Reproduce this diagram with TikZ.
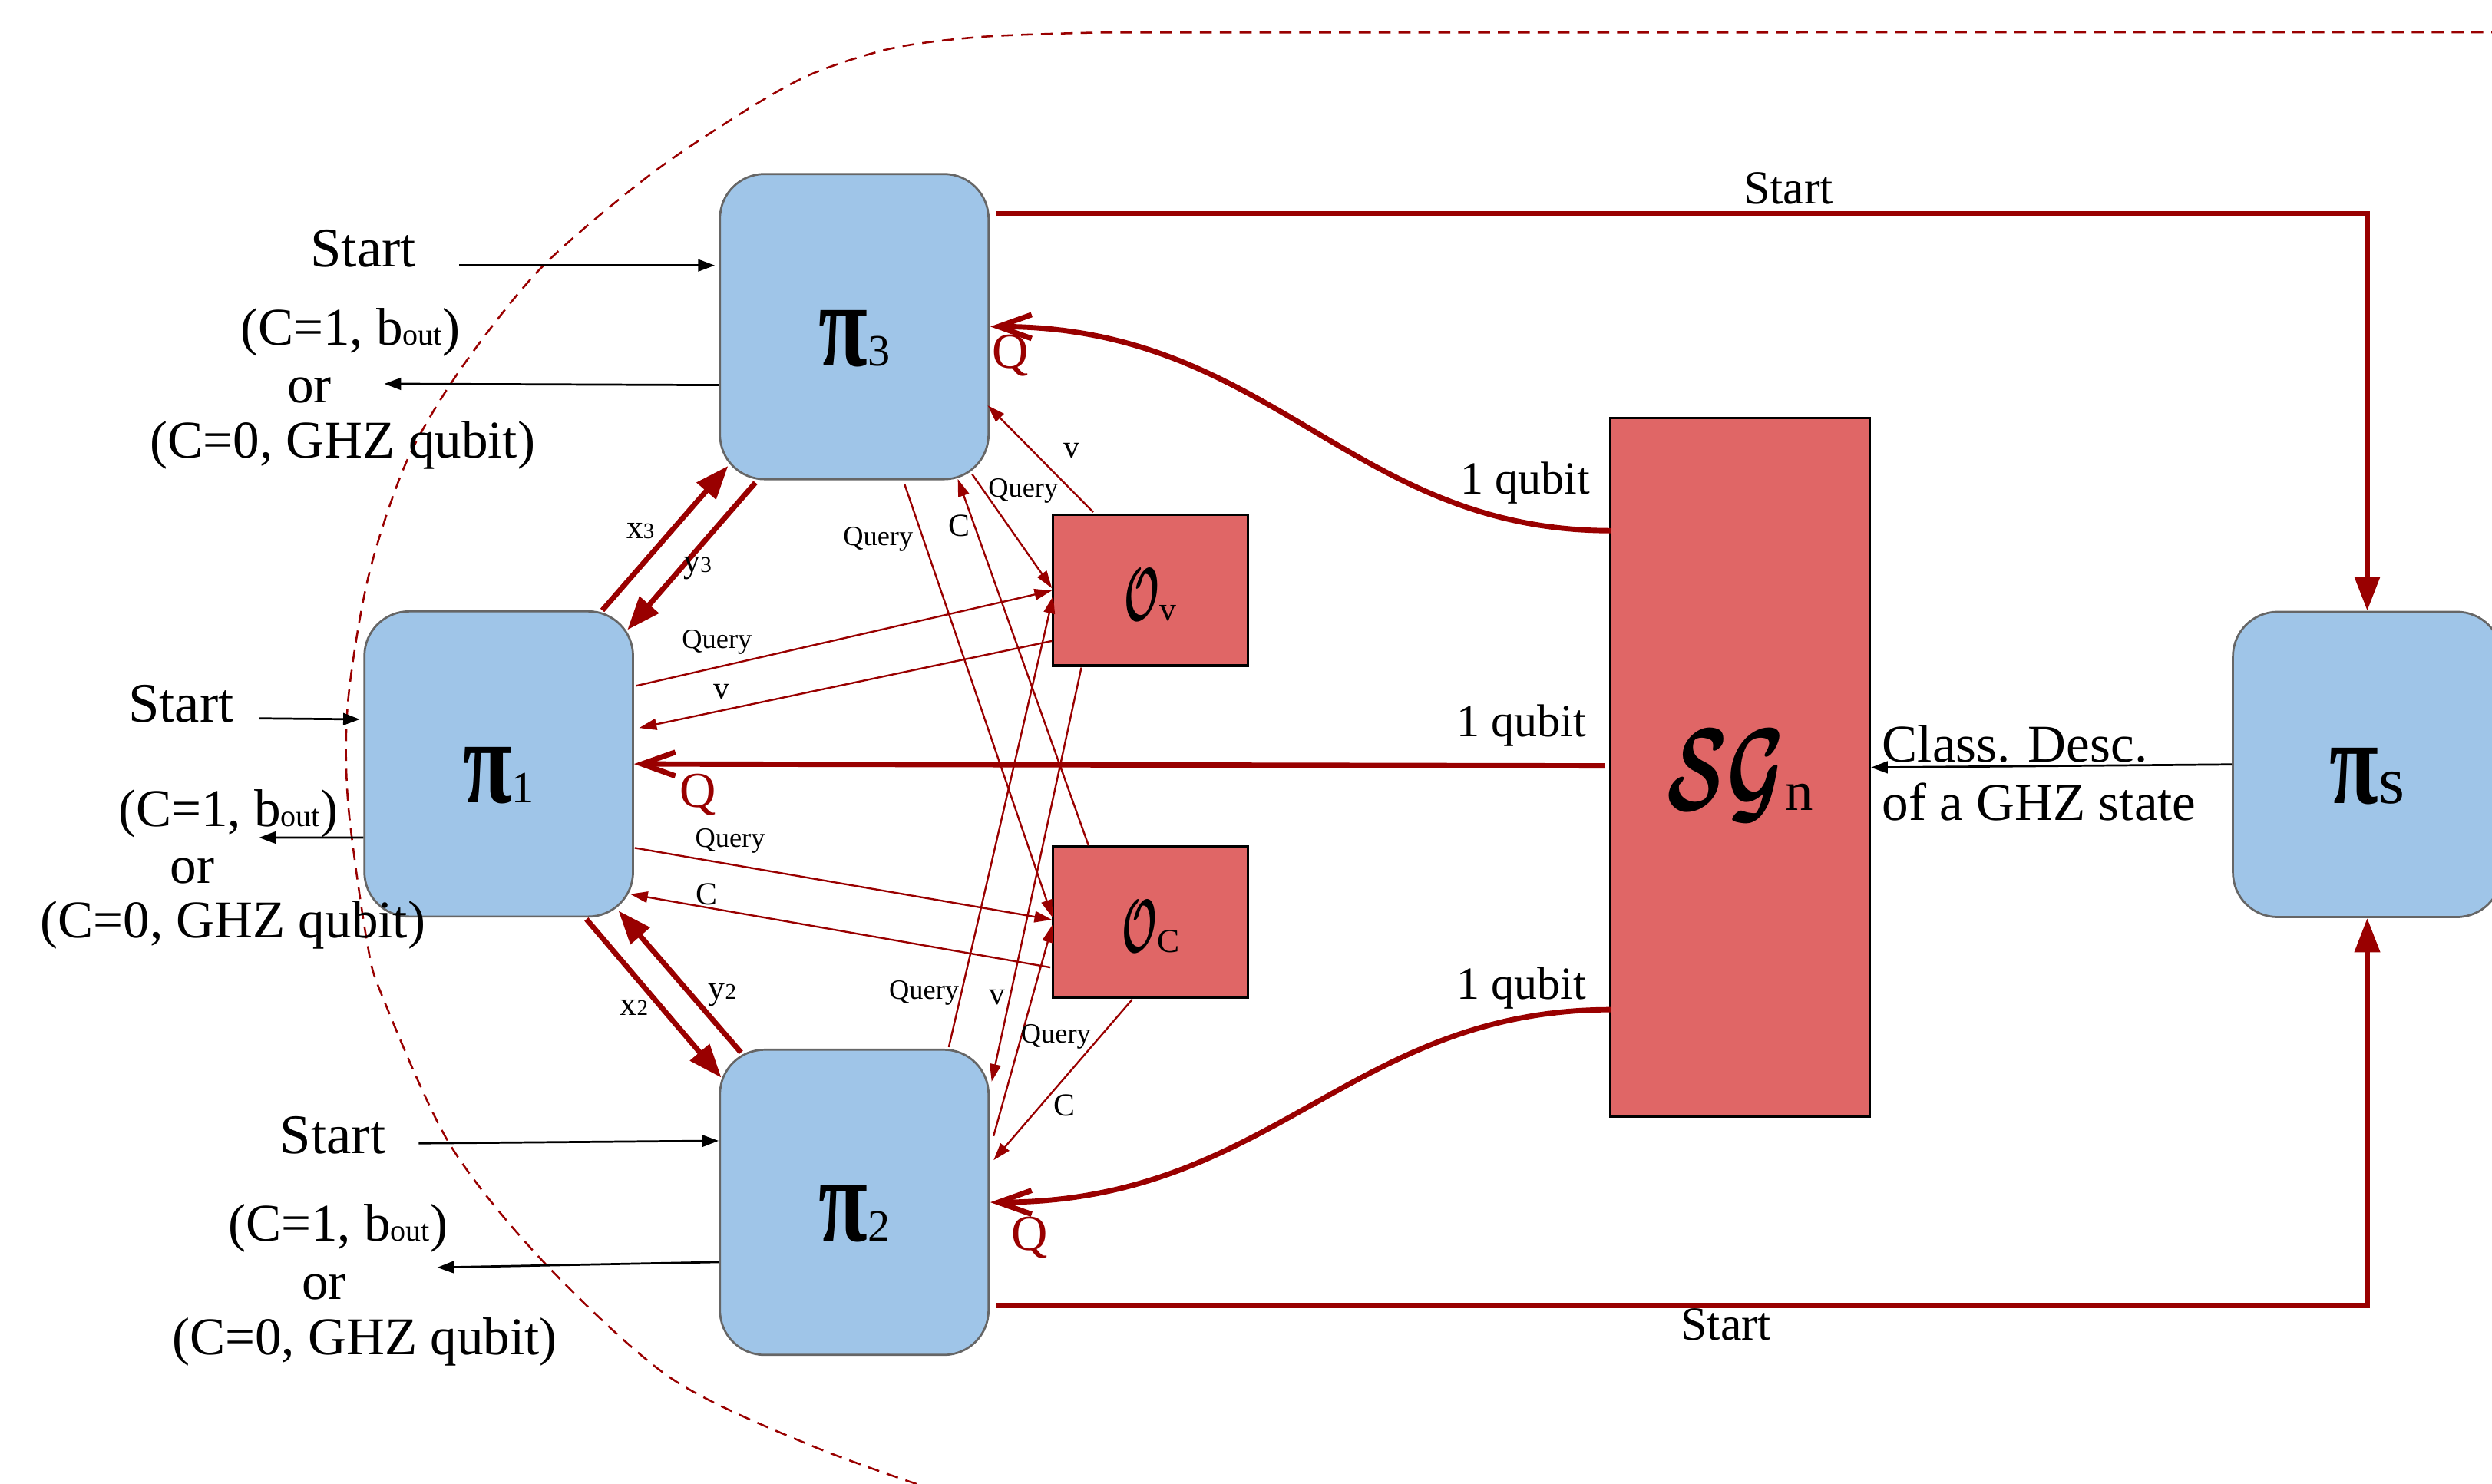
\RequirePackage{fix-cm}
\documentclass[tikz,border=0pt]{standalone}
\usepackage{fontspec}
\setmainfont{Liberation Serif}
\usepackage{graphicx}
\usetikzlibrary{arrows.meta,calc}

\definecolor{wire}{HTML}{990000}
\definecolor{partyfill}{HTML}{9FC5E8}
\definecolor{partyedge}{HTML}{666666}
\definecolor{oraclefill}{HTML}{E06666}

\newcommand{\sz}[1]{\fontsize{#1}{#1}\selectfont}
% party name: tall bold pi with an index, set slightly below centre
\newcommand{\tallpi}{\scalebox{1}[1.35]{\sz{32}\bfseries π}}
\newcommand{\partyname}[1]{\raisebox{-1.5mm}[\height][\depth]{\tallpi\sz{16}\mdseries #1}}
\newcommand{\oraclename}[1]{\raisebox{-0.6mm}[\height][\depth]{\scalebox{0.5}[1]{\sz{27}\boldmath$\mathcal{O}$}\sz{12}#1}}

\tikzset{
  party/.style={draw=partyedge, line width=0.75pt, fill=partyfill, rounded corners=5.6mm,
    minimum width=33.8mm, minimum height=38.4mm, inner sep=0pt},
  oracle/.style={draw=black, line width=0.85pt, fill=oraclefill, inner sep=0pt},
  thickwire/.style={draw=wire, line width=1.9pt},
  xyarrow/.style={thickwire, -{Triangle[length=4.2mm,width=3.1mm]}},
  qarrow/.style={thickwire, -{Straight Barb[length=4.2mm,width=3mm]}},
  startwire/.style={thickwire, -{Triangle[length=4.3mm,width=3.1mm]}},
  thinarrow/.style={draw=wire, line width=0.65pt, -{Triangle[length=2.2mm,width=1.4mm]}},
  blackarrow/.style={draw=black, line width=0.75pt, -{Triangle[length=2.1mm,width=1.5mm]}},
  outlabel/.style={font=\sz{19}, inner sep=0pt},
  startlabel/.style={font=\sz{20}, inner sep=0pt},
  startsmall/.style={font=\sz{17}, inner sep=0pt},
  qlabel/.style={font=\sz{18}, text=wire, inner sep=0pt},
  qrylabel/.style={font=\sz{10}, inner sep=0pt},
  cvlabel/.style={font=\sz{11.5}, inner sep=0pt},
  xylabel/.style={font=\sz{12}, inner sep=0pt},
  qubitlabel/.style={font=\sz{16.5}, inner sep=0pt},
  boundary/.style={draw=wire, line width=0.7pt, dash pattern=on 1.5mm off 1mm},
}

\begin{document}
\begin{tikzpicture}[x=0.2mm, y=-0.2mm]
\useasboundingbox (0,0) rectangle (1568,933.7);

% dashed boundary round the parties and oracles
\draw[boundary] (1600,20.3) -- (690,20.5) -- plot[smooth] coordinates {
  (690,20.5) (620,23) (563,30) (512,46) (470,69) (409,110) (341,168) (290,232)
  (256,290) (232,362) (219,441) (219,505) (231,593) (241,628) (283,720)
  (342,794) (422,867) (514,911) (610,945)};

% parties
\node[party] (pi3) at (537.5,205.5) {\partyname{3}};
\node[party] (pi1) at (313.8,480.7) {\partyname{1}};
\node[party] (pi2) at (537.5,756.5) {\partyname{2}};
\node[party] (pis) at (1489.5,481) {\raisebox{-1.5mm}[\height][\depth]{\tallpi\sz{24}\mdseries s}};

% oracles and the GHZ source
\node[oracle, minimum width=24.5mm, minimum height=19mm] (ov) at (723.9,371.3) {\oraclename{v}};
\node[oracle, minimum width=24.5mm, minimum height=19mm] (oc) at (723.9,580.2) {\oraclename{C}};
\node[oracle, minimum width=32.64mm, minimum height=87.94mm] (sg) at (1094.9,482.9)
  {\raisebox{-1mm}[\height][\depth]{\scalebox{0.67}[1]{\sz{42}\boldmath$\mathcal{SG}$}\sz{20}n}};

% start signals from the outer parties to the sharing party
\draw[startwire] ($(pi3.east)+(4.5,-71.2)$) -| (pis.north);
\draw[startwire] ($(pi2.east)+(4.5,65.1)$) -| (pis.south);
\node[startsmall] (st3) at (1125.3,118.3) {Start};
\node[startsmall] (st2) at (1085.9,833.3) {Start};

% classical description of the GHZ state
\draw[blackarrow] (pis.west) -- (sg.east);
\node[font={\fontsize{19}{21}\selectfont}, inner sep=0pt, anchor=west, align=left] (desc) at (1184,486.4)
  {Class. Desc.\\of a GHZ state};

% one qubit of the GHZ state to each party
\draw[qarrow] ($(sg.west)+(1,-149)$) .. controls +(-164,0) and +(177,0) .. ($(pi3.east)+(0.5,0)$);
\draw[qarrow] ($(sg.west)+(-3,-1)$) -- (pi1.east);
\draw[qarrow] ($(sg.west)+(1,152.4)$) .. controls +(-164,0) and +(177,0) .. ($(pi2.east)+(0.5,0)$);
\node[qubitlabel] (qb3) at (959.7,303.8) {1 qubit};
\node[qubitlabel] (qb1) at (957.2,456.7) {1 qubit};
\node[qubitlabel] (qb2) at (957.2,621.8) {1 qubit};
\node[qlabel] (q3) at (635.6,223.8) {Q};
\node[qlabel] (q1) at (439.1,500) {Q};
\node[qlabel] (q2) at (647.8,778.6) {Q};

% messages between pi1 and the other parties
\draw[xyarrow] ($(pi1.north east)+(-20,0)$) -- ($(pi3.south west)+(5.8,-9)$);
\draw[xyarrow] ($(pi3.south west)+(23,1.5)$) -- ($(pi1.north east)+(-4.2,12.3)$);
\draw[xyarrow] ($(pi1.south east)+(-30,1)$) -- ($(pi2.north west)+(1.5,18.2)$);
\draw[xyarrow] ($(pi2.north west)+(13.9,2.4)$) -- ($(pi1.south east)+(-9.8,-4.3)$);
\node[xylabel] (x3) at (403,334) {x{\sz{8}3}};
\node[xylabel] (y3) at (439,357.7) {y{\sz{8}3}};
\node[xylabel] (x2) at (399,633.8) {x{\sz{8}2}};
\node[xylabel] (y2) at (454.5,626) {y{\sz{8}2}};

% oracle queries of pi1
\draw[thinarrow] ($(pi1.east)+(1.3,-49.2)$) -- ($(ov.west)+(0,0.3)$);
\draw[thinarrow] ($(ov.west)+(0,32)$) -- ($(pi1.east)+(3.2,-22.7)$);
\draw[thinarrow] ($(pi1.east)+(0.4,52.8)$) -- ($(oc.west)+(0,-1.5)$);
\draw[thinarrow] ($(oc.west)+(-1,28.5)$) -- ($(pi1.east)+(-2.4,81.9)$);
\node[qrylabel] (l1) at (451.1,404.1) {Query};
\node[cvlabel] (l2) at (453.9,435.4) {v};
\node[qrylabel] (l3) at (459.4,529.2) {Query};
\node[cvlabel] (l4) at (444.6,562.6) {C};

% oracle queries of pi3
\draw[thinarrow] ($(pi3.south east)+(-11,-3.8)$) -- ($(ov.west)+(0,-1.2)$);
\draw[thinarrow] ($(oc.north west)+(23,0)$) -- ($(pi3.south east)+(-20,-0.8)$);
\draw[thinarrow] ($(pi3.south)+(31.7,2.6)$) -- ($(oc.west)+(0.3,-3)$);
\draw[thinarrow] ($(ov.north west)+(26,-0.8)$) -- ($(pi3.east)+(-1.2,49.6)$);
\node[qrylabel] (l5) at (552.5,339.2) {Query};
\node[cvlabel] (l6) at (603.6,330.6) {C};
\node[qrylabel] (l7) at (643.8,309) {Query};
\node[cvlabel] (l8) at (674.3,283.8) {v};

% oracle queries of pi2
\draw[thinarrow] ($(pi2.north)+(59.5,-1)$) -- ($(ov.west)+(0.8,3.7)$);
\draw[thinarrow] ($(ov.south west)+(18.5,0.5)$) -- ($(pi2.north east)+(1.3,20.7)$);
\draw[thinarrow] ($(pi2.east)+(2.5,-41.7)$) -- ($(oc.west)+(0.3,1.8)$);
\draw[thinarrow] ($(oc.south west)+(50.6,0.3)$) -- ($(pi2.east)+(2.5,-26.5)$);
\node[qrylabel] (l9) at (581.4,624.7) {Query};
\node[cvlabel] (l10) at (627.7,627.5) {v};
\node[qrylabel] (l11) at (664.4,652.4) {Query};
\node[cvlabel] (l12) at (669.6,695.4) {C};

% inputs and outputs of pi3
\coordinate (s3) at (289,167);
\coordinate (o3) at (241.8,241.5);
\draw[blackarrow] (s3) -- ($(pi3.west)+(-2.6,-38.5)$);
\draw[blackarrow] ($(pi3.west)+(0,36.8)$) -- (o3);
\node[startlabel] (t3a) at (228.6,156.2) {Start};
\node[outlabel] (t3b) at (220.3,209.3) {(C=1, b{\sz{11}out})};
\node[outlabel] (t3c) at (194.7,245.5) {or};
\node[outlabel] (t3d) at (215.6,280.2) {(C=0, GHZ qubit)};

% inputs and outputs of pi1
\coordinate (s1) at (163,452);
\coordinate (o1) at (163,527);
\draw[blackarrow] (s1) -- ($(pi1.west)+(-2.2,-28.1)$);
\draw[blackarrow] ($(pi1.west)+(0,46.3)$) -- (o1);
\node[startlabel] (t1a) at (114,443) {Start};
\node[outlabel] (t1b) at (143.5,512) {(C=1, b{\sz{11}out})};
\node[outlabel] (t1c) at (121,548) {or};
\node[outlabel] (t1d) at (146.5,582) {(C=0, GHZ qubit)};

% inputs and outputs of pi2
\coordinate (s2) at (263.4,719.4);
\coordinate (o2) at (275.1,797.5);
\draw[blackarrow] (s2) -- ($(pi2.west)+(-0.2,-38.7)$);
\draw[blackarrow] ($(pi2.west)+(0,37.6)$) -- (o2);
\node[startlabel] (t2a) at (209.5,714.1) {Start};
\node[outlabel] (t2b) at (212.6,772.9) {(C=1, b{\sz{11}out})};
\node[outlabel] (t2c) at (203.9,809.9) {or};
\node[outlabel] (t2d) at (229.5,844.5) {(C=0, GHZ qubit)};
\end{tikzpicture}
\end{document}
